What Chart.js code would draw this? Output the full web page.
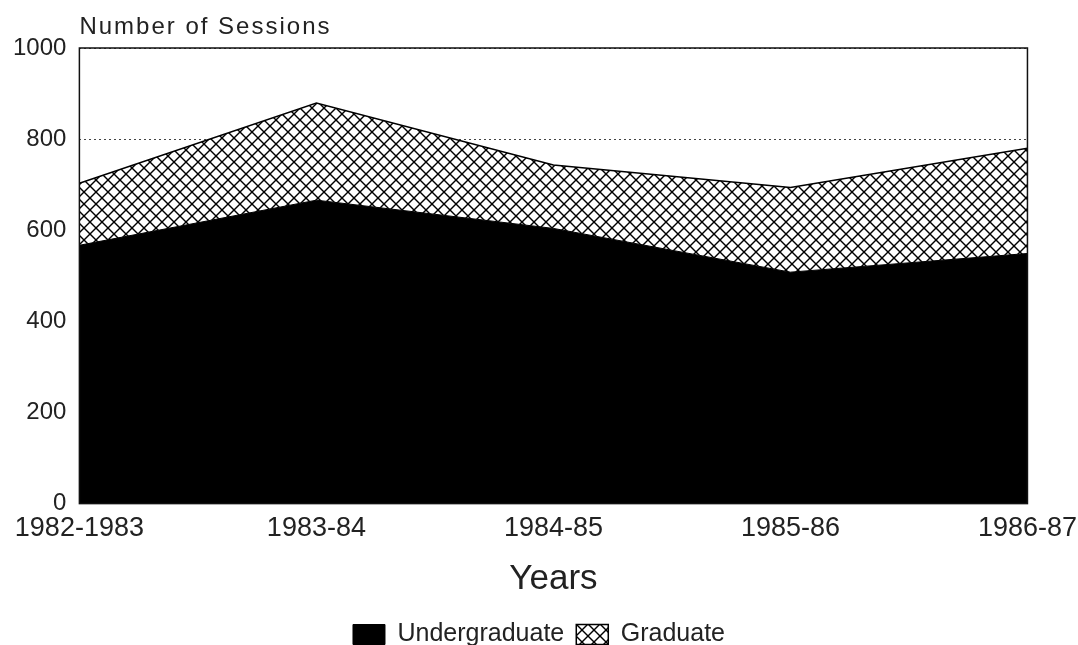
<!DOCTYPE html>
<html>
<head>
<meta charset="utf-8">
<script src="https://cdn.jsdelivr.net/npm/chart.js@4.4.0/dist/chart.umd.min.js"></script>
<style>
  body { margin: 0; background: #fff; }
  .grafico { width: 1078px; height: 645px; position: relative; }
</style>
</head>
<body>
<div class="grafico">
  <canvas id="myChart"></canvas>
</div>
<script>
const anos = ['1982-1983', '1983-84', '1984-85', '1985-86', '1986-87'];
const undergraduate = [567, 666, 604, 508, 549];
const graduate = [136, 213, 139, 186, 231];
const yTicks = [0, 200, 400, 600, 800, 1000];

const fonte = '"Liberation Sans", Arial, sans-serif';

// hachura do Graduate
function criarHachura() {
    const c = document.createElement('canvas');
    c.width = 12;
    c.height = 12;
    const g = c.getContext('2d');
    g.fillStyle = '#fff';
    g.fillRect(0, 0, 12, 12);
    g.strokeStyle = '#000';
    g.lineWidth = 1.4;
    for (let o = -12; o <= 12; o += 12) {
        g.beginPath();
        g.moveTo(o, 0);
        g.lineTo(o + 12, 12);
        g.stroke();
        g.beginPath();
        g.moveTo(o + 12, 0);
        g.lineTo(o, 12);
        g.stroke();
    }
    return g.createPattern(c, 'repeat');
}

const hachura = criarHachura();

const tituloY = {
    id: 'tituloY',
    afterDraw(chart) {
        const c = chart.ctx;
        c.save();
        c.fillStyle = '#222';
        c.font = '24px ' + fonte;
        c.textBaseline = 'middle';
        c.textAlign = 'left';
        c.letterSpacing = '2px';
        c.fillText('Number of Sessions', chart.chartArea.left, 27);
        c.restore();
    }
};

const moldura = {
    id: 'moldura',
    afterDatasetsDraw(chart) {
        const a = chart.chartArea;
        const c = chart.ctx;
        c.save();
        c.strokeStyle = '#111';
        c.lineWidth = 1.5;
        c.strokeRect(a.left, a.top, a.right - a.left, a.bottom - a.top);
        c.restore();
    }
};

const ctx = document.getElementById('myChart');

new Chart(ctx, {
    type: 'line',
    data: {
        labels: anos,
        datasets: [{
            label: 'Undergraduate',
            data: undergraduate,
            borderColor: '#000',
            backgroundColor: '#000',
            borderWidth: 1,
            fill: 'origin',
            pointRadius: 0,
            tension: 0
        }, {
            label: 'Graduate',
            data: graduate,
            borderColor: '#000',
            backgroundColor: hachura,
            borderWidth: 1.5,
            fill: '-1',
            pointRadius: 0,
            tension: 0
        }]
    },
    options: {
        responsive: true,
        maintainAspectRatio: false,
        animation: false,
        layout: {
            padding: { top: 48, left: 0, right: 0, bottom: -12 }
        },
        plugins: {
            legend: {
                position: 'bottom',
                labels: {
                    boxWidth: 32,
                    boxHeight: 20,
                    padding: 12,
                    color: '#222',
                    font: { family: fonte, size: 25 }
                }
            },
            tooltip: { enabled: false }
        },
        scales: {
            x: {
                offset: false,
                grid: { display: false },
                border: { display: false },
                ticks: {
                    color: '#222',
                    padding: 1,
                    maxRotation: 0,
                    font: { family: fonte, size: 27 }
                },
                title: {
                    display: true,
                    text: 'Years',
                    color: '#222',
                    padding: { top: 12, bottom: 10 },
                    font: { family: fonte, size: 35 }
                }
            },
            y: {
                stacked: true,
                min: 0,
                max: 1000,
                afterBuildTicks(axis) {
                    axis.ticks = yTicks.map(v => ({ value: v }));
                },
                grid: {
                    color: '#444',
                    lineWidth: 1,
                    drawTicks: false
                },
                border: { display: false, dash: [2, 3] },
                ticks: {
                    color: '#222',
                    padding: 13,
                    font: { family: fonte, size: 24 },
                    callback: v => String(v)
                }
            }
        }
    },
    plugins: [tituloY, moldura]
});
</script>
</body>
</html>
